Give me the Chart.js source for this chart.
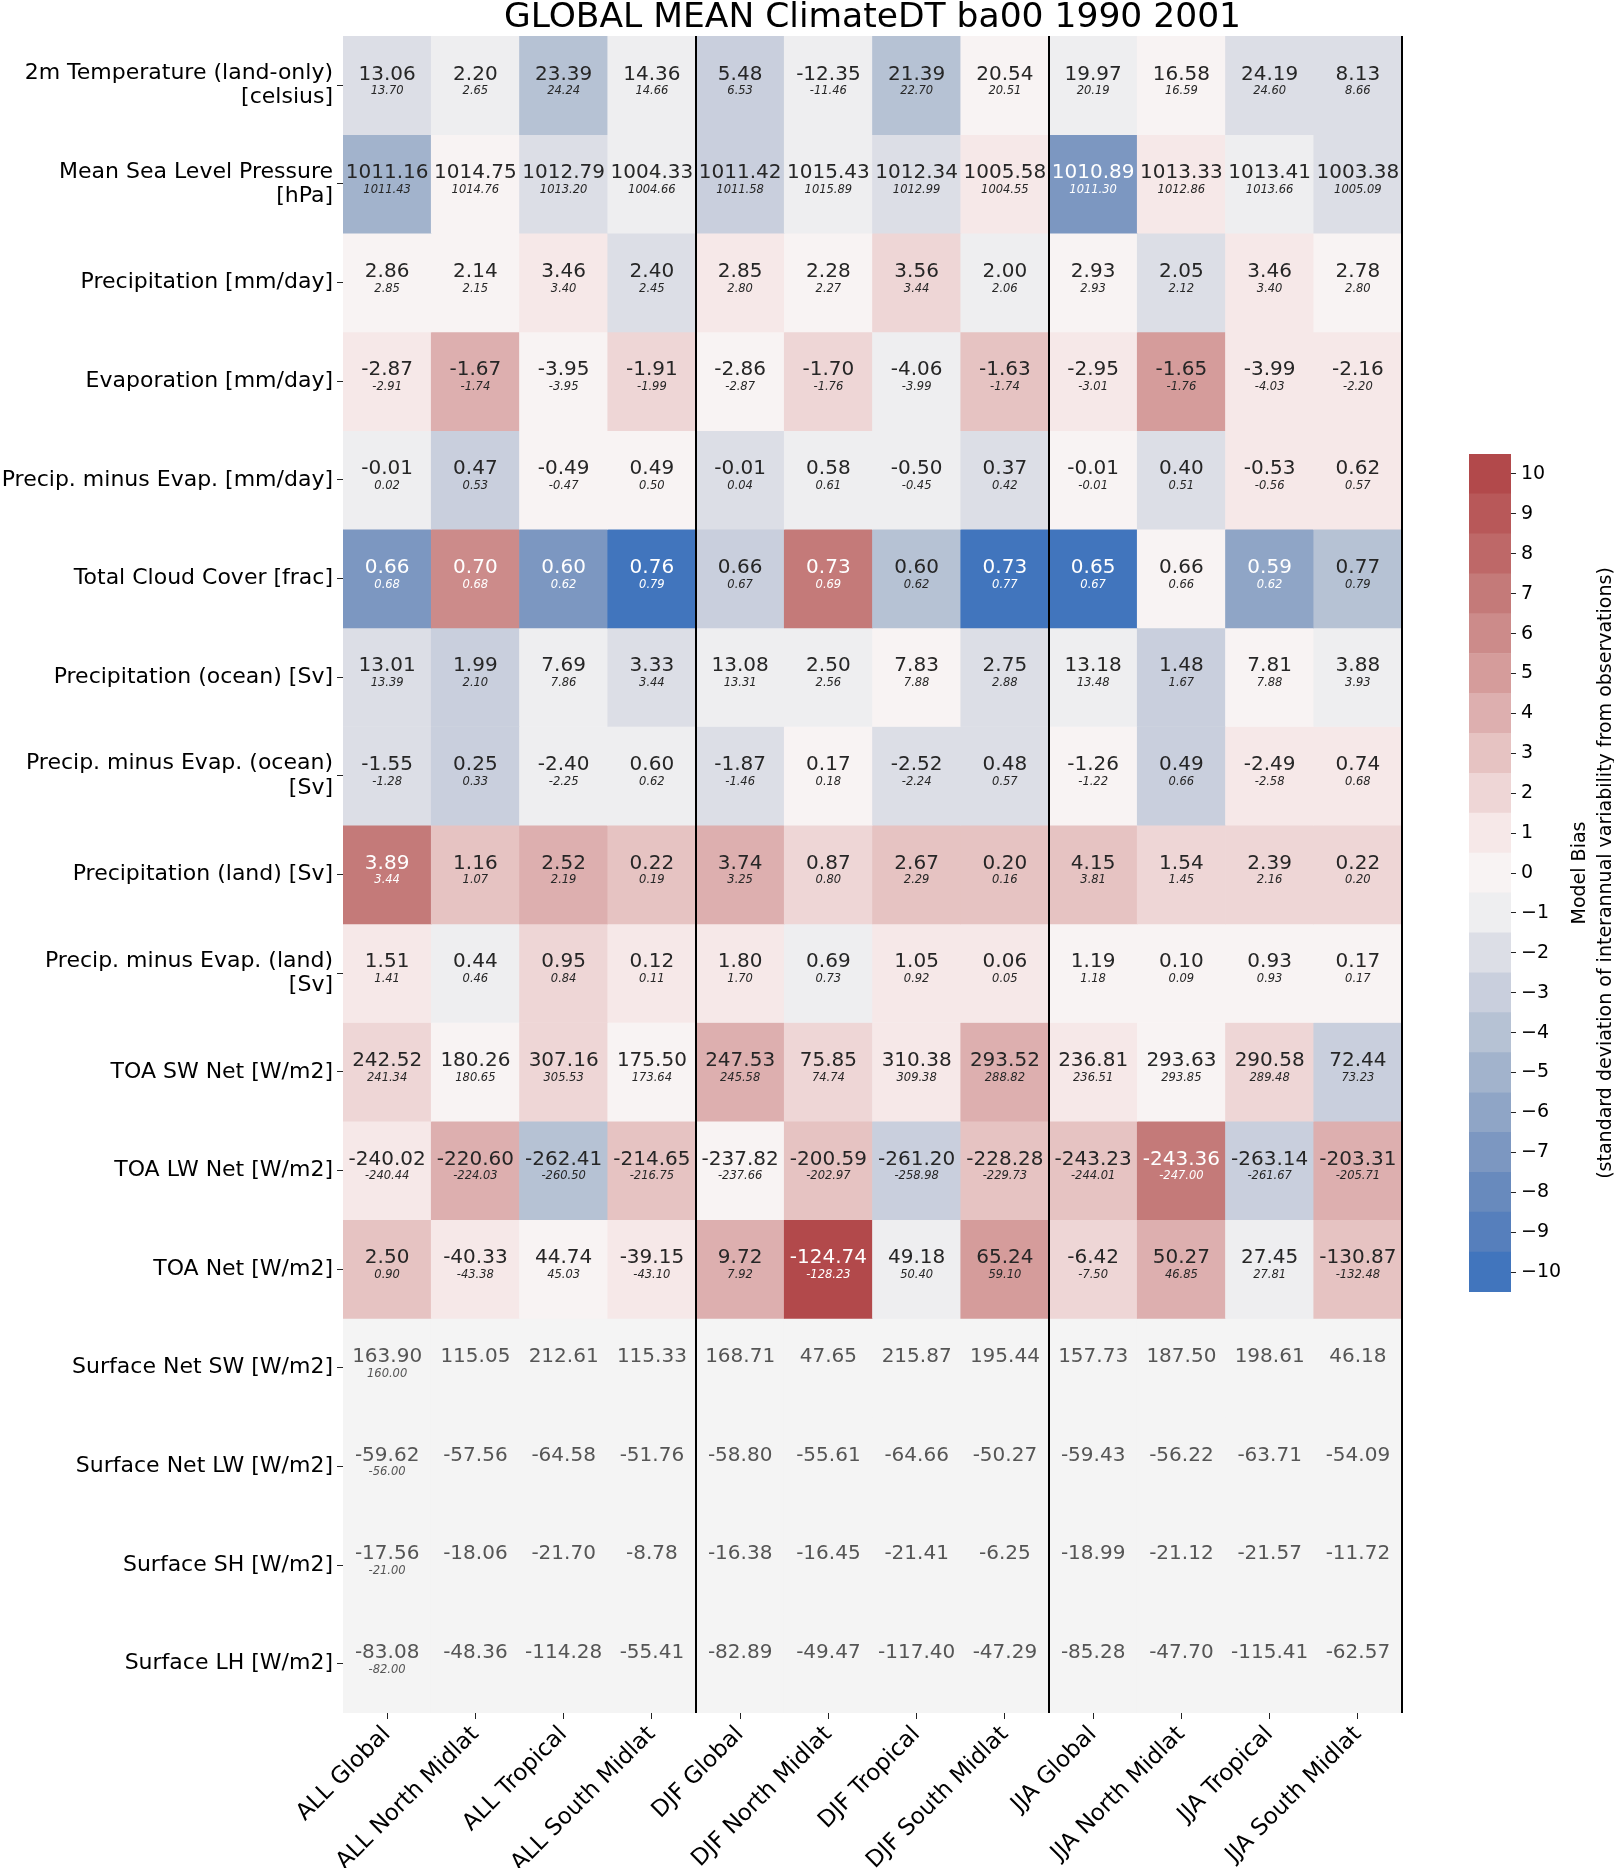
<!DOCTYPE html>
<html>
<head>
<meta charset="utf-8">
<script src="https://cdn.jsdelivr.net/npm/chart.js@4.4.1/dist/chart.umd.min.js"></script>
<style>
html, body { margin: 0; padding: 0; background: #fff; }
#wrap { position: relative; width: 1614px; height: 1868px; }
canvas { position: absolute; left: 0; top: 0; }
</style>
</head>
<body>
<div id="wrap">
  <canvas id="heat" width="1614" height="1868"></canvas>
  <canvas id="cbar" width="1614" height="1868"></canvas>
</div>
<script>
var titleText = 'GLOBAL MEAN ClimateDT ba00 1990 2001';

var columns = ['ALL Global', 'ALL North Midlat', 'ALL Tropical', 'ALL South Midlat',
               'DJF Global', 'DJF North Midlat', 'DJF Tropical', 'DJF South Midlat',
               'JJA Global', 'JJA North Midlat', 'JJA Tropical', 'JJA South Midlat'];

var rowLabels = [
    ['2m Temperature (land-only)', '[celsius]'],
    ['Mean Sea Level Pressure', '[hPa]'],
    'Precipitation [mm/day]',
    'Evaporation [mm/day]',
    'Precip. minus Evap. [mm/day]',
    'Total Cloud Cover [frac]',
    'Precipitation (ocean) [Sv]',
    ['Precip. minus Evap. (ocean)', '[Sv]'],
    'Precipitation (land) [Sv]',
    ['Precip. minus Evap. (land)', '[Sv]'],
    'TOA SW Net [W/m2]',
    'TOA LW Net [W/m2]',
    'TOA Net [W/m2]',
    'Surface Net SW [W/m2]',
    'Surface Net LW [W/m2]',
    'Surface SH [W/m2]',
    'Surface LH [W/m2]'
];

// model values (big number in each cell)
var modelValues = [
    [13.06, 2.20, 23.39, 14.36, 5.48, -12.35, 21.39, 20.54, 19.97, 16.58, 24.19, 8.13],
    [1011.16, 1014.75, 1012.79, 1004.33, 1011.42, 1015.43, 1012.34, 1005.58, 1010.89, 1013.33, 1013.41, 1003.38],
    [2.86, 2.14, 3.46, 2.40, 2.85, 2.28, 3.56, 2.00, 2.93, 2.05, 3.46, 2.78],
    [-2.87, -1.67, -3.95, -1.91, -2.86, -1.70, -4.06, -1.63, -2.95, -1.65, -3.99, -2.16],
    [-0.01, 0.47, -0.49, 0.49, -0.01, 0.58, -0.50, 0.37, -0.01, 0.40, -0.53, 0.62],
    [0.66, 0.70, 0.60, 0.76, 0.66, 0.73, 0.60, 0.73, 0.65, 0.66, 0.59, 0.77],
    [13.01, 1.99, 7.69, 3.33, 13.08, 2.50, 7.83, 2.75, 13.18, 1.48, 7.81, 3.88],
    [-1.55, 0.25, -2.40, 0.60, -1.87, 0.17, -2.52, 0.48, -1.26, 0.49, -2.49, 0.74],
    [3.89, 1.16, 2.52, 0.22, 3.74, 0.87, 2.67, 0.20, 4.15, 1.54, 2.39, 0.22],
    [1.51, 0.44, 0.95, 0.12, 1.80, 0.69, 1.05, 0.06, 1.19, 0.10, 0.93, 0.17],
    [242.52, 180.26, 307.16, 175.50, 247.53, 75.85, 310.38, 293.52, 236.81, 293.63, 290.58, 72.44],
    [-240.02, -220.60, -262.41, -214.65, -237.82, -200.59, -261.20, -228.28, -243.23, -243.36, -263.14, -203.31],
    [2.50, -40.33, 44.74, -39.15, 9.72, -124.74, 49.18, 65.24, -6.42, 50.27, 27.45, -130.87],
    [163.90, 115.05, 212.61, 115.33, 168.71, 47.65, 215.87, 195.44, 157.73, 187.50, 198.61, 46.18],
    [-59.62, -57.56, -64.58, -51.76, -58.80, -55.61, -64.66, -50.27, -59.43, -56.22, -63.71, -54.09],
    [-17.56, -18.06, -21.70, -8.78, -16.38, -16.45, -21.41, -6.25, -18.99, -21.12, -21.57, -11.72],
    [-83.08, -48.36, -114.28, -55.41, -82.89, -49.47, -117.40, -47.29, -85.28, -47.70, -115.41, -62.57]
];

// observation values (small italic number)
var obsValues = [
    [13.70, 2.65, 24.24, 14.66, 6.53, -11.46, 22.70, 20.51, 20.19, 16.59, 24.60, 8.66],
    [1011.43, 1014.76, 1013.20, 1004.66, 1011.58, 1015.89, 1012.99, 1004.55, 1011.30, 1012.86, 1013.66, 1005.09],
    [2.85, 2.15, 3.40, 2.45, 2.80, 2.27, 3.44, 2.06, 2.93, 2.12, 3.40, 2.80],
    [-2.91, -1.74, -3.95, -1.99, -2.87, -1.76, -3.99, -1.74, -3.01, -1.76, -4.03, -2.20],
    [0.02, 0.53, -0.47, 0.50, 0.04, 0.61, -0.45, 0.42, -0.01, 0.51, -0.56, 0.57],
    [0.68, 0.68, 0.62, 0.79, 0.67, 0.69, 0.62, 0.77, 0.67, 0.66, 0.62, 0.79],
    [13.39, 2.10, 7.86, 3.44, 13.31, 2.56, 7.88, 2.88, 13.48, 1.67, 7.88, 3.93],
    [-1.28, 0.33, -2.25, 0.62, -1.46, 0.18, -2.24, 0.57, -1.22, 0.66, -2.58, 0.68],
    [3.44, 1.07, 2.19, 0.19, 3.25, 0.80, 2.29, 0.16, 3.81, 1.45, 2.16, 0.20],
    [1.41, 0.46, 0.84, 0.11, 1.70, 0.73, 0.92, 0.05, 1.18, 0.09, 0.93, 0.17],
    [241.34, 180.65, 305.53, 173.64, 245.58, 74.74, 309.38, 288.82, 236.51, 293.85, 289.48, 73.23],
    [-240.44, -224.03, -260.50, -216.75, -237.66, -202.97, -258.98, -229.73, -244.01, -247.00, -261.67, -205.71],
    [0.90, -43.38, 45.03, -43.10, 7.92, -128.23, 50.40, 59.10, -7.50, 46.85, 27.81, -132.48],
    [160.00, null, null, null, null, null, null, null, null, null, null, null],
    [-56.00, null, null, null, null, null, null, null, null, null, null, null],
    [-21.00, null, null, null, null, null, null, null, null, null, null, null],
    [-82.00, null, null, null, null, null, null, null, null, null, null, null]
];

// model bias in std devs (colour bins), null = no data
var biasLevels = [
    [-2, -1, -4, -1, -3, -1, -4, 0, -1, 0, -2, -2],
    [-5, 0, -2, -1, -3, -1, -2, 1, -7, 1, -1, -2],
    [0, 0, 1, -2, 1, 0, 2, -1, 0, -2, 1, 0],
    [1, 4, 0, 2, 0, 2, -1, 3, 1, 5, 1, 1],
    [-1, -3, 0, 0, -2, -1, -1, -2, 0, -2, 1, 1],
    [-7, 6, -7, -10, -3, 7, -4, -10, -10, 0, -6, -4],
    [-2, -3, -1, -2, -1, -1, 0, -2, -1, -3, 0, -1],
    [-2, -3, -1, -1, -2, 0, -2, -2, 0, -3, 1, 1],
    [7, 3, 4, 3, 4, 2, 3, 3, 3, 2, 2, 2],
    [1, -1, 2, 1, 1, -1, 1, 1, 0, 0, 0, 0],
    [2, 0, 2, 0, 4, 2, 1, 4, 1, 0, 2, -3],
    [1, 4, -4, 3, 0, 3, -3, 3, 3, 7, -3, 4],
    [3, 1, 0, 1, 4, 10, -1, 5, 2, 4, -1, 3],
    [null, null, null, null, null, null, null, null, null, null, null, null],
    [null, null, null, null, null, null, null, null, null, null, null, null],
    [null, null, null, null, null, null, null, null, null, null, null, null],
    [null, null, null, null, null, null, null, null, null, null, null, null]
];

var cbarTicks = [-10, -9, -8, -7, -6, -5, -4, -3, -2, -1, 0, 1, 2, 3, 4, 5, 6, 7, 8, 9, 10];
var cbarTitleLines = ['Model Bias', '(standard deviation of interannual variability from observations)'];

// one colour per bin, -10 .. 10
var palette = ['#4175bd', '#567fbc', '#688abd', '#7c97c1', '#8fa5c6', '#a2b3cc', '#b6c2d4',
               '#c9cfdd', '#dcdee6', '#eeeef0', '#f8f3f3', '#f6e8e8', '#eed6d6', '#e6c3c2',
               '#ddafaf', '#d59c9b', '#cc8b8a', '#c47a79', '#be6868', '#b85859', '#b2494b'];
var missingColor = '#f4f4f4';
var groupEnds = [3, 7, 11];   // last column of each season block

var FONT = '"DejaVu Sans", sans-serif';

function cellColor(level) {
    return level === null ? missingColor : palette[level + 10];
}

var heatDatasets = rowLabels.map(function(label, r) {
    return {
        label: Array.isArray(label) ? label.join(' ') : label,
        data: columns.map(function() { return [r, r + 1]; }),
        backgroundColor: biasLevels[r].map(cellColor),
        borderWidth: 0,
        grouped: false,
        barPercentage: 1,
        categoryPercentage: 1
    };
});

var cellText = {
    id: 'cellText',
    afterDatasetsDraw: function(chart) {
        var ctx = chart.ctx;
        var x = chart.scales.x, y = chart.scales.y, area = chart.chartArea;
        ctx.save();
        ctx.textAlign = 'center';
        ctx.textBaseline = 'middle';
        modelValues.forEach(function(row, r) {
            var yc = y.getPixelForValue(r + 0.5);
            row.forEach(function(v, c) {
                var xc = x.getPixelForValue(c);
                var lvl = biasLevels[r][c];
                var col = '#262626';
                if (lvl === null) col = '#555555';
                else if (Math.abs(lvl) >= 6) col = '#ffffff';
                ctx.fillStyle = col;
                ctx.font = '20px ' + FONT;
                ctx.fillText(v.toFixed(2), xc, yc - 11);
                var o = obsValues[r][c];
                if (o !== null) {
                    ctx.font = 'italic 11.5px ' + FONT;
                    ctx.fillText(o.toFixed(2), xc, yc + 6);
                }
            });
        });
        // season separators
        var half = (x.getPixelForValue(1) - x.getPixelForValue(0)) / 2;
        ctx.strokeStyle = '#000';
        ctx.lineWidth = 2;
        groupEnds.forEach(function(c) {
            var px = Math.round(x.getPixelForValue(c) + half);
            ctx.beginPath();
            ctx.moveTo(px, area.top);
            ctx.lineTo(px, area.bottom);
            ctx.stroke();
        });
        // title centred over the heatmap
        ctx.fillStyle = '#000';
        ctx.font = '34.5px ' + FONT;
        ctx.textBaseline = 'alphabetic';
        ctx.fillText(titleText, (area.left + area.right) / 2, 27);
        ctx.restore();
    }
};

new Chart(document.getElementById('heat'), {
    type: 'bar',
    data: { labels: columns, datasets: heatDatasets },
    options: {
        responsive: false,
        animation: false,
        layout: { padding: { top: 36, right: 212, left: 0, bottom: 0 } },
        plugins: { legend: { display: false }, tooltip: { enabled: false }, title: { display: false } },
        scales: {
            x: {
                type: 'category',
                afterFit: function(s) { s.height = 155; },
                ticks: {
                    autoSkip: false, minRotation: 45, maxRotation: 45,
                    color: '#000', font: { family: FONT, size: 23 }, padding: 2
                },
                grid: { offset: false, drawOnChartArea: false, tickLength: 6, tickColor: '#222' },
                border: { display: false }
            },
            y: {
                type: 'linear', min: 0, max: 17, reverse: true,
                afterFit: function(s) { s.width = 343; },
                afterBuildTicks: function(s) {
                    s.ticks = rowLabels.map(function(l, i) { return { value: i + 0.5 }; });
                },
                ticks: {
                    color: '#000', font: { family: FONT, size: 22, lineHeight: 1.1 }, padding: 4,
                    callback: function(v, i) { return rowLabels[i]; }
                },
                grid: { drawOnChartArea: false, tickLength: 6, tickColor: '#222' },
                border: { display: false }
            }
        }
    },
    plugins: [cellText]
});

var cbarTitle = {
    id: 'cbarTitle',
    afterDraw: function(chart) {
        var ctx = chart.ctx, area = chart.chartArea;
        ctx.save();
        ctx.fillStyle = '#000';
        ctx.font = '19px ' + FONT;
        ctx.textAlign = 'center';
        ctx.textBaseline = 'middle';
        ctx.translate(area.right + 69, (area.top + area.bottom) / 2);
        ctx.rotate(-Math.PI / 2);
        ctx.fillText(cbarTitleLines[0], 0, 0);
        ctx.fillText(cbarTitleLines[1], 0, 26);
        ctx.restore();
    }
};

new Chart(document.getElementById('cbar'), {
    type: 'bar',
    data: {
        labels: [''],
        datasets: cbarTicks.map(function(l, i) {
            return {
                label: String(l),
                data: [[l - 0.5, l + 0.5]],
                backgroundColor: palette[i],
                borderWidth: 0,
                grouped: false,
                barPercentage: 1,
                categoryPercentage: 1
            };
        })
    },
    options: {
        responsive: false,
        animation: false,
        layout: { padding: { left: 1469, right: 0, top: 454, bottom: 1868 - 1292 } },
        plugins: { legend: { display: false }, tooltip: { enabled: false } },
        scales: {
            x: { display: false },
            y: {
                position: 'right', min: -10.5, max: 10.5,
                afterFit: function(s) { s.width = 1614 - 1511; },
                afterBuildTicks: function(s) {
                    s.ticks = cbarTicks.map(function(v) { return { value: v }; });
                },
                ticks: {
                    color: '#000', font: { family: FONT, size: 19 }, padding: 5,
                    callback: function(v) { return v < 0 ? '\u2212' + Math.abs(v) : String(v); }
                },
                grid: { drawOnChartArea: false, tickLength: 5, tickColor: '#222' },
                border: { display: false }
            }
        }
    },
    plugins: [cbarTitle]
});
</script>
</body>
</html>
